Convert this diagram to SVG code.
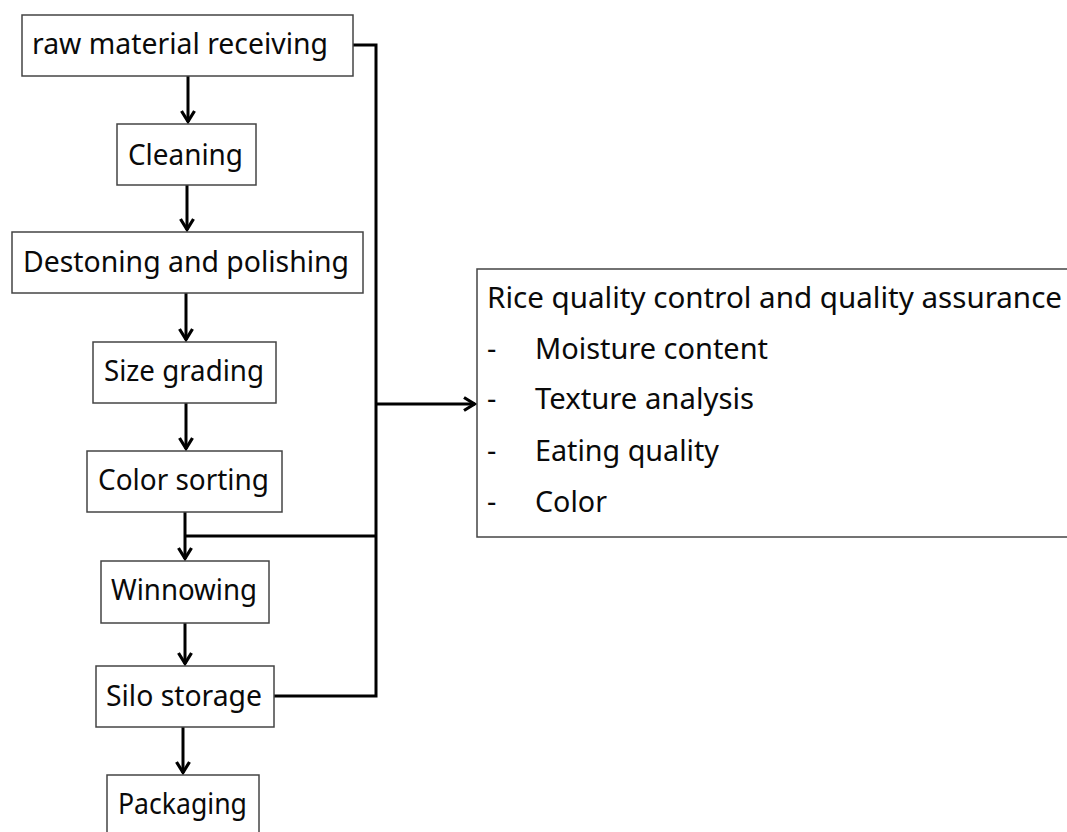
<svg xmlns="http://www.w3.org/2000/svg" width="1067" height="832" viewBox="0 0 1067 832">
  <style>
    .box { fill: #ffffff; stroke: #444444; stroke-width: 1.5; }
    .lbl { font-family: "Noto Sans", "Open Sans", sans-serif; font-size: 29px; fill: #0a0a0a; }
    .wire { fill: none; stroke: #000000; stroke-width: 3; stroke-linejoin: miter; }
  </style>
  <defs>
    <marker id="chev" markerUnits="userSpaceOnUse" markerWidth="20" markerHeight="20" viewBox="-14 -10 16 20" refX="0" refY="0" orient="auto">
      <path d="M-11,-6.5 L-0.5,0 L-11,6.5" fill="none" stroke="#000" stroke-width="3.2"/>
    </marker>
  </defs>
  <rect width="1067" height="832" fill="#ffffff"/>

  <!-- connectors -->
  <g id="connectors">
    <path class="wire" d="M188,76 V122" marker-end="url(#chev)"/>
    <path class="wire" d="M187,185 V230" marker-end="url(#chev)"/>
    <path class="wire" d="M186,293 V340" marker-end="url(#chev)"/>
    <path class="wire" d="M186,403 V449" marker-end="url(#chev)"/>
    <path class="wire" d="M185,512 V559" marker-end="url(#chev)"/>
    <path class="wire" d="M185,623 V664" marker-end="url(#chev)"/>
    <path class="wire" d="M183,727 V773" marker-end="url(#chev)"/>
    <!-- QC sampling bus -->
    <path class="wire" d="M353,45 H376 V696 H274"/>
    <path class="wire" d="M185,536 H376"/>
    <path class="wire" d="M376,404 H475" marker-end="url(#chev)"/>
  </g>

  <g id="raw">
    <rect class="box" x="22" y="15" width="331" height="61"/>
    <text class="lbl" x="32" y="54" textLength="296" lengthAdjust="spacingAndGlyphs">raw material receiving</text>
  </g>
  <g id="cleaning">
    <rect class="box" x="117" y="124" width="139" height="61"/>
    <text class="lbl" x="128" y="165" textLength="115" lengthAdjust="spacingAndGlyphs">Cleaning</text>
  </g>
  <g id="destoning">
    <rect class="box" x="12" y="232" width="351" height="61"/>
    <text class="lbl" x="23" y="272" textLength="326" lengthAdjust="spacingAndGlyphs">Destoning and polishing</text>
  </g>
  <g id="size-grading">
    <rect class="box" x="93" y="342" width="183" height="61"/>
    <text class="lbl" x="104" y="381" textLength="160" lengthAdjust="spacingAndGlyphs">Size grading</text>
  </g>
  <g id="color-sorting">
    <rect class="box" x="87" y="451" width="195" height="61"/>
    <text class="lbl" x="98" y="490" textLength="171" lengthAdjust="spacingAndGlyphs">Color sorting</text>
  </g>
  <g id="winnowing">
    <rect class="box" x="101" y="561" width="168" height="62"/>
    <text class="lbl" x="111" y="600" textLength="146" lengthAdjust="spacingAndGlyphs">Winnowing</text>
  </g>
  <g id="silo">
    <rect class="box" x="96" y="666" width="178" height="61"/>
    <text class="lbl" x="106" y="706" textLength="156" lengthAdjust="spacingAndGlyphs">Silo storage</text>
  </g>
  <g id="packaging">
    <rect class="box" x="107" y="775" width="152" height="66"/>
    <text class="lbl" x="118" y="814" textLength="129" lengthAdjust="spacingAndGlyphs">Packaging</text>
  </g>

  <g id="qc">
    <rect class="box" x="477" y="269" width="610" height="268"/>
    <text class="lbl" x="487" y="308" textLength="575" lengthAdjust="spacingAndGlyphs">Rice quality control and quality assurance</text>
    <text class="lbl" x="487" y="359">-</text>
    <text class="lbl" x="535" y="359" textLength="233" lengthAdjust="spacingAndGlyphs">Moisture content</text>
    <text class="lbl" x="487" y="409">-</text>
    <text class="lbl" x="535" y="409" textLength="219" lengthAdjust="spacingAndGlyphs">Texture analysis</text>
    <text class="lbl" x="487" y="461">-</text>
    <text class="lbl" x="535" y="461" textLength="184" lengthAdjust="spacingAndGlyphs">Eating quality</text>
    <text class="lbl" x="487" y="512">-</text>
    <text class="lbl" x="535" y="512" textLength="72" lengthAdjust="spacingAndGlyphs">Color</text>
  </g>
</svg>
